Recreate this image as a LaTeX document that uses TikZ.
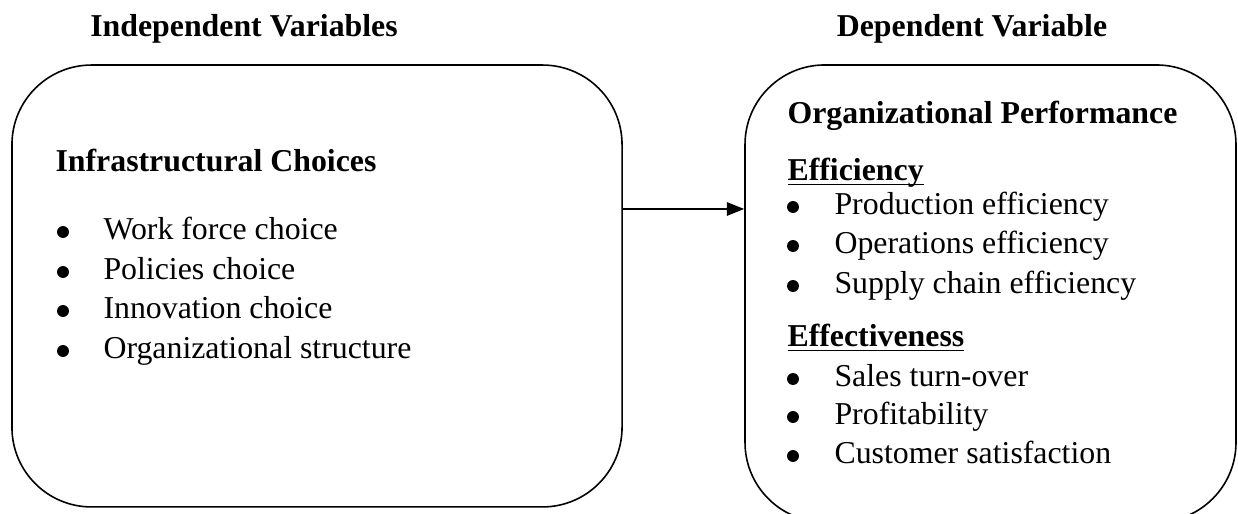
\documentclass[tikz,border=0pt]{standalone}
\usepackage{fontspec}
\setmainfont{Liberation Serif}
\usetikzlibrary{arrows.meta,positioning,calc}
\usepackage{xcolor}
\definecolor{Ink}{HTML}{000000}

\tikzset{
  varbox/.style={draw=Ink,line width=0.6pt,rounded corners=30pt,inner sep=0pt},
  headtext/.style={font=\fontsize{12}{14}\selectfont\bfseries,text=Ink,inner sep=0pt},
  itemtext/.style={font=\fontsize{12}{14}\selectfont,text=Ink,inner sep=0pt,anchor=west,text height=8.5pt,text depth=2.5pt},
  bulletdot/.style={circle,fill=Ink,minimum size=4.5pt,inner sep=0pt},
}

\begin{document}
\begin{tikzpicture}[x=0.377pt,y=0.377pt,>=Stealth]
\useasboundingbox (0,0) rectangle (1238,514);
\node[headtext] (indephead) at (244,485) {Independent Variables};
\node[headtext] (dephead) at (972,485) {Dependent Variable};
\node[varbox,minimum width=230pt,minimum height=166.6pt] (indep) at (317,228) {};
\node[varbox,minimum width=185.1pt,minimum height=172.3pt] (dep) at (990.5,220.5) {};
\node[itemtext,font=\fontsize{12}{14}\selectfont\bfseries] (infra) at (55,350) {Infrastructural Choices};
\node[bulletdot] (b1) at (63,282) {};
\node[itemtext] (i1) at (103,282) {Work force choice};
\node[bulletdot] (b2) at (63,242) {};
\node[itemtext] (i2) at (103,242) {Policies choice};
\node[bulletdot] (b3) at (63,203) {};
\node[itemtext] (i3) at (103,203) {Innovation choice};
\node[bulletdot] (b4) at (63,163) {};
\node[itemtext] (i4) at (103,163) {Organizational structure};
\node[itemtext,font=\fontsize{12}{14}\selectfont\bfseries] (orgperf) at (787,398) {Organizational Performance};
\node[itemtext,font=\fontsize{12}{14}\selectfont\bfseries] (effic) at (787,341) {\underline{\smash{Efficiency}}};
\node[bulletdot] (b5) at (793,307) {};
\node[itemtext] (i5) at (834,307) {Production efficiency};
\node[bulletdot] (b6) at (793,268) {};
\node[itemtext] (i6) at (834,268) {Operations efficiency};
\node[bulletdot] (b7) at (793,228) {};
\node[itemtext] (i7) at (834,228) {Supply chain efficiency};
\node[itemtext,font=\fontsize{12}{14}\selectfont\bfseries] (effect) at (787,175) {\underline{\smash{Effectiveness}}};
\node[bulletdot] (b8) at (793,135) {};
\node[itemtext] (i8) at (834,135) {Sales turn-over};
\node[bulletdot] (b9) at (793,97) {};
\node[itemtext] (i9) at (834,97) {Profitability};
\node[bulletdot] (b10) at (793,58) {};
\node[itemtext] (i10) at (834,58) {Customer satisfaction};
\coordinate (arrowlevel) at (0,305);
\draw[-{Triangle[length=6.5pt,width=5pt]},Ink,line width=0.7pt] (indep.east |- arrowlevel) -- (dep.west |- arrowlevel);
\end{tikzpicture}
\end{document}
